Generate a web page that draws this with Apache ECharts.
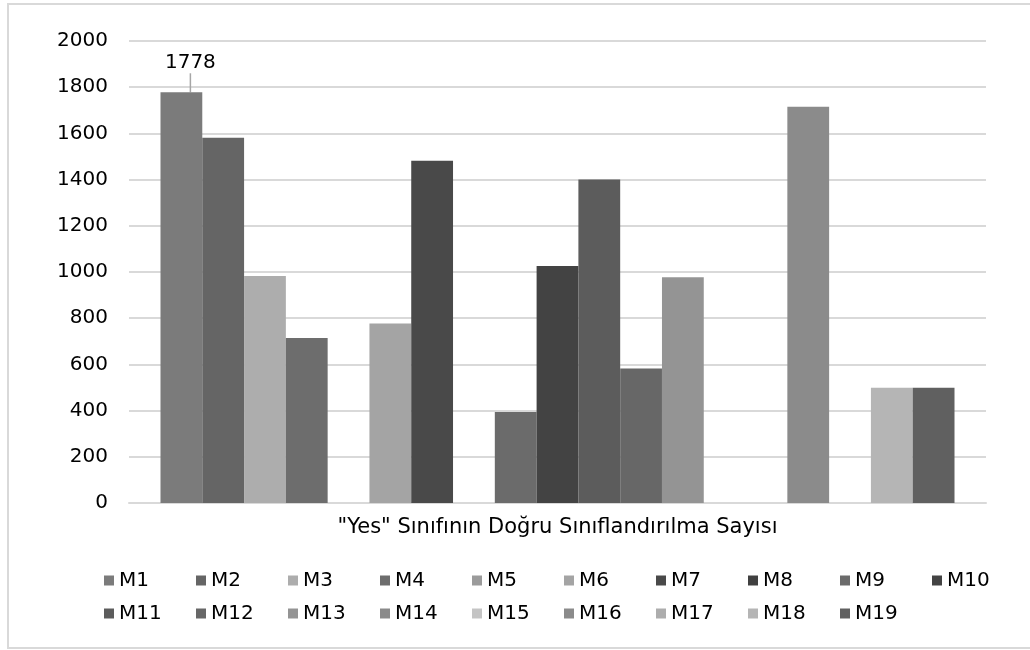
<!DOCTYPE html>
<html>
<head>
<meta charset="utf-8">
<script src="https://cdn.jsdelivr.net/npm/echarts@6/dist/echarts.min.js"></script>
<style>
html,body{margin:0;padding:0;background:#fff;}
#chart{width:1030px;height:650px;}
</style>
</head>
<body>
<div id="chart"></div>
<script>
const categories = ['"Yes" Sınıfının Doğru Sınıflandırılma Sayısı'];
const seriesNames = ['M1','M2','M3','M4','M5','M6','M7','M8','M9','M10','M11','M12','M13','M14','M15','M16','M17','M18','M19'];
const seriesValues = [1778, 1581, 983, 714, 0, 777, 1482, 0, 394, 1026, 1400, 582, 977, 0, 0, 1715, 0, 499, 499];
const seriesColors = ['#7b7b7b','#656565','#adadad','#6d6d6d','#9b9b9b','#a4a4a4','#494949','#404040','#6b6b6b','#434343','#5c5c5c','#676767','#949494','#8a8a8a','#c4c4c4','#8b8b8b','#adadad','#b5b5b5','#606060'];
const yTicks = [0, 200, 400, 600, 800, 1000, 1200, 1400, 1600, 1800, 2000];
const labeledSeries = ['M1'];

const FONT = 'DejaVu Sans';
const chart = echarts.init(document.getElementById('chart'), null, {renderer: 'canvas'});

const series = seriesNames.map((name, i) => ({
  name: name,
  type: 'bar',
  data: [seriesValues[i]],
  barGap: '0%',
  barCategoryGap: '7.35%',
  itemStyle: {color: seriesColors[i]},
  label: {
    show: labeledSeries.indexOf(name) >= 0,
    position: 'top',
    distance: 5,
    fontFamily: FONT,
    fontSize: 20,
    color: '#000'
  },
  labelLayout: labeledSeries.indexOf(name) >= 0 ? {dx: 9, dy: -14} : undefined,
  labelLine: {show: labeledSeries.indexOf(name) >= 0, lineStyle: {color: '#a6a6a6', width: 1.5}},
  emphasis: {disabled: true}
}));

chart.setOption({
  animation: false,
  backgroundColor: '#fff',
  graphic: [{
    type: 'rect',
    shape: {x: 8, y: 4, width: 1040, height: 644},
    style: {fill: 'none', stroke: '#d9d9d9', lineWidth: 2},
    silent: true
  }],
  grid: {left: 129, right: 44, top: 41, bottom: 147},
  legend: {
    data: seriesNames,
    left: 99,
    top: 559,
    width: 930,
    itemGap: 0,
    itemWidth: 10,
    itemHeight: 10,
    icon: 'rect',
    textStyle: {fontFamily: FONT, fontSize: 20, color: '#000', width: 77, lineHeight: 33}
  },
  xAxis: {
    type: 'category',
    data: categories,
    axisLine: {show: true, lineStyle: {color: '#d9d9d9', width: 2}},
    axisTick: {show: false},
    axisLabel: {fontFamily: FONT, fontSize: 21, color: '#000', margin: 14}
  },
  yAxis: {
    type: 'value',
    min: yTicks[0],
    max: yTicks[yTicks.length - 1],
    interval: yTicks[1] - yTicks[0],
    axisLine: {show: false},
    axisTick: {show: false},
    splitLine: {lineStyle: {color: '#d9d9d9', width: 2}},
    axisLabel: {fontFamily: FONT, fontSize: 20, color: '#000', margin: 21, formatter: function (v) { return String(v); }}
  },
  series: series
});
</script>
</body>
</html>
